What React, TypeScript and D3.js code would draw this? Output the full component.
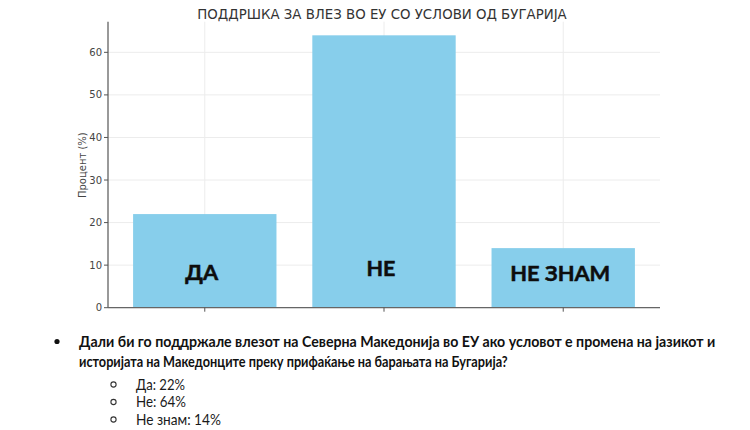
import React, { useLayoutEffect, useRef, useState } from "react";
import * as d3 from "d3";

const categories = ["ДА", "НЕ", "НЕ ЗНАМ"];
const values = [22, 64, 14];
const yTicks = [0, 10, 20, 30, 40, 50, 60];
const title = "ПОДДРШКА ЗА ВЛЕЗ ВО ЕУ СО УСЛОВИ ОД БУГАРИЈА";
const yLabel = "Процент (%)";
const questionLines = [
  "Дали би го поддржале влезот на Северна Македонија во ЕУ ако условот е промена на јазикот и",
  "историјата на Македонците преку прифаќање на барањата на Бугарија?",
];
const answers = ["Да: 22%", "Не: 64%", "Не знам: 14%"];

const W = 750;
const H = 430;

type FitProps = {
  x: number;
  y: number;
  width: number;
  anchor?: "start" | "middle" | "end";
  children: string;
  [k: string]: any;
};

function FitText({ x, y, width, anchor = "start", children, ...rest }: FitProps) {
  const ref = useRef<SVGTextElement>(null);
  const [sx, setSx] = useState(1);
  useLayoutEffect(() => {
    if (ref.current) {
      const len = ref.current.getComputedTextLength();
      if (len > 0) setSx(width / len);
    }
  }, [width, children]);
  return (
    <text
      ref={ref}
      transform={`translate(${x},${y}) scale(${sx},1)`}
      textAnchor={anchor}
      {...rest}
    >
      {children}
    </text>
  );
}

const bodyFont = "Lato, 'Open Sans', 'DejaVu Sans', sans-serif";

export default function App() {
  const x = d3.scaleLinear().domain([-0.54, 2.54]).range([108, 660]);
  const y = d3.scaleLinear().domain([0, 67.2]).range([307.7, 21.7]);
  const barW = 0.8;
  const labelLens = [33, 29, 100];
  const labelBase = [280, 276, 281];
  const qLens = [637, 429];
  const ansLens = [49, 50, 85];
  const ansY = [384.5, 402, 419.5];

  return (
    <svg
      width={W}
      height={H}
      style={{ position: "absolute", left: 0, top: 0, background: "#fff" }}
    >
      <rect x={0} y={0} width={W} height={H} fill="#fff" />
      {yTicks.map((t) => (
        <line key={"gy" + t} x1={x(-0.54)} x2={x(2.54)} y1={y(t)} y2={y(t)} stroke="#ececec" strokeWidth={1} />
      ))}
      {categories.map((c, i) => (
        <line key={"gx" + c} x1={x(i)} x2={x(i)} y1={y(0)} y2={y(67.2)} stroke="#ececec" strokeWidth={1} />
      ))}
      {values.map((v, i) => (
        <rect
          key={"b" + i}
          x={x(i - barW / 2)}
          y={y(v)}
          width={x(i + barW / 2) - x(i - barW / 2)}
          height={y(0) - y(v)}
          fill="#87CEEB"
        />
      ))}
      {categories.map((c, i) => (
        <FitText
          key={"l" + c}
          x={x(i) - 3}
          y={labelBase[i]}
          width={labelLens[i]}
          anchor="middle"
          fontFamily={bodyFont}
          fontWeight="bold"
          fontSize={21}
          fill="#0d0d0d"
          stroke="#0d0d0d"
          strokeWidth={0.5}
        >
          {c}
        </FitText>
      ))}
      <line x1={x(-0.54)} x2={x(-0.54)} y1={y(0)} y2={y(67.2)} stroke="#555" strokeWidth={1.2} />
      <line x1={x(-0.54)} x2={x(2.54)} y1={y(0)} y2={y(0)} stroke="#666" strokeWidth={1.2} />
      {yTicks.map((t) => (
        <g key={"yt" + t}>
          <line x1={x(-0.54) - 4} x2={x(-0.54)} y1={y(t)} y2={y(t)} stroke="#555" />
          <text
            x={x(-0.54) - 6}
            y={y(t)}
            dy="0.35em"
            textAnchor="end"
            fontFamily="'DejaVu Sans', sans-serif"
            fontSize={10}
            fill="#444"
          >
            {t}
          </text>
        </g>
      ))}
      {categories.map((c, i) => (
        <line key={"xt" + c} x1={x(i)} x2={x(i)} y1={y(0)} y2={y(0) + 4} stroke="#555" />
      ))}
      <text
        transform={`translate(86, ${y(33.5)}) rotate(-90)`}
        textAnchor="middle"
        fontFamily="'DejaVu Sans', sans-serif"
        fontSize={10}
        fill="#444"
      >
        {yLabel}
      </text>
      <FitText
        x={382}
        y={19}
        width={370}
        anchor="middle"
        fontFamily="'DejaVu Sans', sans-serif"
        fontSize={14}
        fill="#333"
      >
        {title}
      </FitText>
      <circle cx={57} cy={341.5} r={2.6} fill="#111" />
      {questionLines.map((l, i) => (
        <FitText
          key={"q" + i}
          x={79}
          y={347 + i * 20}
          width={qLens[i]}
          fontFamily={bodyFont}
          fontWeight="bold"
          fontSize={15}
          fill="#111"
        >
          {l}
        </FitText>
      ))}
      {answers.map((a, i) => (
        <g key={"a" + i}>
          <circle cx={113.5} cy={ansY[i]} r={2.6} fill="none" stroke="#333" strokeWidth={1.1} />
          <FitText
            x={136}
            y={ansY[i] + 5}
            width={ansLens[i]}
            fontFamily={bodyFont}
            fontSize={14.5}
            fill="#1a1a1a"
          >
            {a}
          </FitText>
        </g>
      ))}
    </svg>
  );
}
